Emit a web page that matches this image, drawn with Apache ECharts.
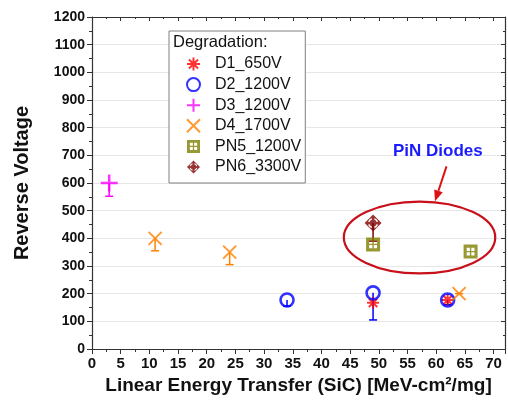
<!DOCTYPE html>
<html><head><meta charset="utf-8">
<script src="https://cdn.jsdelivr.net/npm/echarts@6/dist/echarts.min.js"></script>
<style>html,body{margin:0;padding:0;background:#fff}#c{width:508px;height:404px}</style>
</head><body><div id="c"></div>
<script>
// ---- data ----
const seriesNames = ['D1_650V','D2_1200V','D3_1200V','D4_1700V','PN5_1200V','PN6_3300V'];
const d1LET = [49, 62];       const d1V = [167, 177];
const d2LET = [34, 49, 62];   const d2V = [177, 203, 177];   const d2Low = [155, 105, 160];
const d3LET = [3];            const d3V = [600];             const d3Low = [552];
const d4LET = [11, 24, 64];   const d4V = [400, 350, 200];   const d4Low = [355, 305, 200];
const pn5LET = [49, 66];      const pn5V = [378, 352];
const pn6LET = [49];          const pn6V = [455];            const pn6Low = [390];
const xTicks = [0, 72, 5];    // min, max, interval
const yTicks = [0, 1200, 100];
const annotationText = 'PiN Diodes';
const legendTitle = 'Degradation:';

// ---- symbol paths ----
function area(p){let s=0;for(let i=0;i<p.length;i++){const a=p[i],b=p[(i+1)%p.length];s+=a[0]*b[1]-b[0]*a[1];}return s;}
function poly(p,sign){if(area(p)*sign<0)p=p.slice().reverse();return 'M'+p.map(q=>q[0].toFixed(2)+','+q[1].toFixed(2)).join('L')+'Z';}
function sq(x0,y0,x1,y1){return [[x0,y0],[x1,y0],[x1,y1],[x0,y1]];}
const pn5Path = 'path://' + poly(sq(0,0,20,20),1) + poly(sq(4.4,4.4,9,9),-1) + poly(sq(11,4.4,15.6,9),-1) + poly(sq(4.4,11,9,15.6),-1) + poly(sq(11,11,15.6,15.6),-1);
let pn6Str = poly([[10,0],[20,10],[10,20],[0,10]],1);
for(let k=0;k<4;k++){
  const a0=(k*90+17)*Math.PI/180, a1=(k*90+73)*Math.PI/180, pts=[];
  for(let i=0;i<=8;i++){const a=a0+(a1-a0)*i/8;pts.push([10+6.0*Math.cos(a),10+6.0*Math.sin(a)]);}
  for(let i=8;i>=0;i--){const a=a0+(a1-a0)*i/8;pts.push([10+4.3*Math.cos(a),10+4.3*Math.sin(a)]);}
  pn6Str += poly(pts,-1);
}
const pn6Path = 'path://' + pn6Str;
const asteriskPath = 'path://M0,10L20,10M10,0L10,20M3,3L17,17M17,3L3,17';
const plusPath = 'path://M0,10L20,10M10,0L10,20';
const crossPath = 'path://M0,0L20,20M20,0L0,20';

const zip = (a,b,c) => a.map((v,i)=> c ? [v,b[i],c[i]] : [v,b[i]]);

function errRender(capW, color){
  return function(params, api){
    const x = api.value(0), y = api.value(1), lo = api.value(2);
    const p1 = api.coord([x,y]), p2 = api.coord([x,lo]);
    return {type:'group', children:[
      {type:'line', shape:{x1:p1[0],y1:p1[1],x2:p2[0],y2:p2[1]}, style:{stroke:color,lineWidth:1.5}},
      {type:'line', shape:{x1:p2[0]-capW/2,y1:p2[1],x2:p2[0]+capW/2,y2:p2[1]}, style:{stroke:color,lineWidth:1.5}}
    ]};
  };
}
const FONT = '"Liberation Sans", Arial, sans-serif';
const colors = {d1:'#ff0000', d2:'#0000ff', d3:'#ff00ff', d4:'#ff8000', pn5:'#808000', pn6:'#800000'};

function errSeries(name, data, color, capW){
  return {name:name, type:'custom', renderItem: errRender(capW, color), data:data, encode:{x:0,y:1}, z:1, silent:true};
}
function axisCommon(){
  return {axisLine:{show:true,onZero:false,lineStyle:{color:'#333',width:1.2}}};
}

const chart = echarts.init(document.getElementById('c'), null, {renderer:'canvas'});
const option = {
  animation:false,
  backgroundColor:'#fff',
  grid:{left:92,right:3,top:17,bottom:55,containLabel:false},
  xAxis:[
    Object.assign(axisCommon(), {type:'value', min:xTicks[0], max:xTicks[1], interval:xTicks[2], position:'bottom',
      name:'Linear Energy Transfer (SiC) [MeV-cm²/mg]', nameLocation:'middle', nameGap:26,
      nameTextStyle:{fontFamily:FONT,fontWeight:'bold',fontSize:19,color:'#111'},
      axisTick:{show:true,inside:false,length:5,lineStyle:{color:'#333'}},
      minorTick:{show:true,splitNumber:2,length:3,lineStyle:{color:'#333'}},
      axisLabel:{fontFamily:FONT,fontWeight:'bold',fontSize:15,color:'#111',margin:7,
        formatter:v=> (v % 5 === 0 ? String(v) : '')},
      splitLine:{show:false}}),
    Object.assign(axisCommon(), {type:'value', min:xTicks[0], max:xTicks[1], interval:xTicks[2], position:'top',
      axisTick:{show:true,inside:true,length:4,lineStyle:{color:'#333'}},
      minorTick:{show:true,splitNumber:2,length:2,lineStyle:{color:'#333'}},
      axisLabel:{show:false}, splitLine:{show:false}})
  ],
  yAxis:[
    Object.assign(axisCommon(), {type:'value', min:yTicks[0], max:yTicks[1], interval:yTicks[2], position:'left',
      name:'Reverse Voltage', nameLocation:'middle', nameGap:60,
      nameTextStyle:{fontFamily:FONT,fontWeight:'bold',fontSize:20,color:'#111'},
      axisTick:{show:true,inside:false,length:5,lineStyle:{color:'#333'}},
      minorTick:{show:true,splitNumber:2,length:3,lineStyle:{color:'#333'}},
      axisLabel:{fontFamily:FONT,fontWeight:'bold',fontSize:14,color:'#111',margin:7, formatter:v=>String(v)},
      splitLine:{show:true,lineStyle:{color:'#e6e6e6',width:1}}}),
    Object.assign(axisCommon(), {type:'value', min:yTicks[0], max:yTicks[1], interval:yTicks[2], position:'right',
      axisTick:{show:true,inside:true,length:4,lineStyle:{color:'#333'}},
      minorTick:{show:true,splitNumber:2,length:2,lineStyle:{color:'#333'}},
      axisLabel:{show:false}, splitLine:{show:false}})
  ],
  legend:{
    data:seriesNames, orient:'vertical', left:169, top:31,
    padding:[25,4,8,17], itemWidth:33, itemHeight:13, itemGap:4.6,
    backgroundColor:'#fff', borderColor:'#808080', borderWidth:1,
    selectedMode:false,
    textStyle:{fontFamily:FONT,fontSize:16,color:'#111',lineHeight:16}
  },
  series:[
    errSeries('e4', zip(d4LET,d4V,d4Low), colors.d4, 8),
    errSeries('e3', zip(d3LET,d3V,d3Low), colors.d3, 8),
    errSeries('e6', zip(pn6LET,pn6V,pn6Low), colors.pn6, 8),
    {name:seriesNames[4], type:'scatter', data:zip(pn5LET,pn5V), symbol:pn5Path, symbolSize:14,
      itemStyle:{color:colors.pn5}, z:3},
    {name:seriesNames[5], type:'scatter', data:zip(pn6LET,pn6V), symbol:pn6Path, symbolSize:17,
      itemStyle:{color:colors.pn6}, z:3},
    {name:seriesNames[0], type:'scatter', data:zip(d1LET,d1V), symbol:asteriskPath, symbolSize:12,
      itemStyle:{color:'rgba(0,0,0,0)', borderColor:colors.d1, borderWidth:2}, z:3},
    errSeries('e2', zip(d2LET,d2V,d2Low), colors.d2, 8),
    {name:seriesNames[1], type:'scatter', data:zip(d2LET,d2V), symbol:'circle', symbolSize:13,
      itemStyle:{color:'rgba(0,0,0,0)', borderColor:colors.d2, borderWidth:2.6}, z:4},
    {name:seriesNames[2], type:'scatter', data:zip(d3LET,d3V), symbol:plusPath, symbolSize:17,
      itemStyle:{color:'rgba(0,0,0,0)', borderColor:colors.d3, borderWidth:2.5}, z:4},
    {name:seriesNames[3], type:'scatter', data:zip(d4LET,d4V), symbol:crossPath, symbolSize:13,
      itemStyle:{color:'rgba(0,0,0,0)', borderColor:colors.d4, borderWidth:2}, z:4}
  ]
};
chart.setOption(option);

// ---- annotations in data coordinates ----
const ellipseCenter = [57.1, 403], ellipseRadii = [13.2, 130];
const arrowFrom = [61.8, 660], arrowTo = [59.8, 534];
const textAt = [60.3, 713];
const px = p => chart.convertToPixel({xAxisIndex:0, yAxisIndex:0}, p);
const c = px(ellipseCenter), e = px([ellipseCenter[0]+ellipseRadii[0], ellipseCenter[1]+ellipseRadii[1]]);
const a0 = px(arrowFrom), a1 = px(arrowTo), t = px(textAt);
const ang = Math.atan2(a1[1]-a0[1], a1[0]-a0[0]);
const hl = 11, hw = 4.5;
const base = [a1[0]-hl*Math.cos(ang), a1[1]-hl*Math.sin(ang)];
const head = [a1, [base[0]+hw*Math.sin(ang), base[1]-hw*Math.cos(ang)], [base[0]-hw*Math.sin(ang), base[1]+hw*Math.cos(ang)]];
chart.setOption({graphic:[
  {type:'ellipse', shape:{cx:c[0], cy:c[1], rx:Math.abs(e[0]-c[0]), ry:Math.abs(c[1]-e[1])},
    style:{fill:'none', stroke:'#c8101a', lineWidth:2.2}, z:10, silent:true},
  {type:'line', shape:{x1:a0[0],y1:a0[1],x2:base[0],y2:base[1]}, style:{stroke:'#dd1111',lineWidth:2}, z:10, silent:true},
  {type:'polygon', shape:{points:head}, style:{fill:'#dd1111'}, z:10, silent:true},
  {type:'text', x:t[0], y:t[1], style:{text:annotationText, fill:'#1a1aff', font:'bold 17px '+FONT, align:'center', verticalAlign:'middle'}, z:10, silent:true},
  {type:'text', x:173, y:42, style:{text:legendTitle, fill:'#111', font:'16.5px '+FONT, align:'left', verticalAlign:'middle'}, z:100, silent:true}
]});
</script>
</body></html>
